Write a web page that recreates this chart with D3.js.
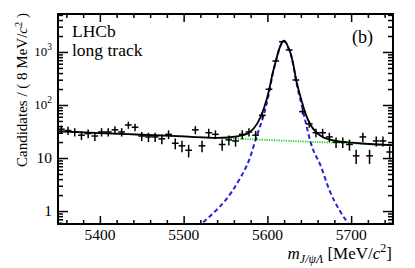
<!DOCTYPE html>
<html lang="en">
<head>
<meta charset="UTF-8">
<title>LHCb J/psi Lambda mass</title>
<script src="https://cdn.jsdelivr.net/npm/d3@7"></script>
<style>
  body { margin: 0; background: #fff; }
  text { font-family: "Liberation Serif", "DejaVu Serif", serif; fill: #000; }
</style>
</head>
<body>
<svg width="415" height="268"></svg>
<script>
// bin centres (8 MeV bins, 5350 - 5750)
var binCentres = [5354, 5362, 5370, 5378, 5386, 5394, 5402, 5410, 5418, 5426,
                  5434, 5442, 5450, 5458, 5466, 5474, 5482, 5490, 5498, 5506,
                  5514, 5522, 5530, 5538, 5546, 5554, 5562, 5570, 5578, 5586,
                  5594, 5602, 5610, 5618, 5626, 5634, 5642, 5650, 5658, 5666,
                  5674, 5682, 5690, 5698, 5706, 5714, 5722, 5730, 5738, 5746];
var counts = [35, 33, 31, 27, 29, 26, 31, 31, 34, 31,
              42, 38, 26, 25, 25, 23, 28, 19, 17, 14,
              34, 17, 30, 28, 18, 22, 21, 28, 31, 27,
              64, 198, 676, 1564, 1091, 296, 75, 44, 30, 30,
              25, 20, 20, 18, 11, 25, 11, 21, 21, 13];

// fit components
var bkgMass = [5350, 5450, 5550, 5650, 5750];
var bkgVal  = [32, 27.5, 23.6, 20.3, 17.5];

var sigMass = [5510, 5521, 5535, 5550, 5566, 5578, 5588, 5596, 5602, 5606, 5610, 5614, 5617, 5619.5,
               5622, 5625, 5628, 5631, 5634, 5637, 5640, 5646, 5652, 5664, 5674, 5686, 5696, 5704];
var sigVal  = [0.4, 0.57, 0.9, 1.6, 3.8, 9, 28, 68, 170, 360, 650, 1100, 1450, 1620,
               1500, 1200, 900, 560, 300, 180, 115, 45, 19, 6.9, 2.5, 1.04, 0.6, 0.4];

var totMass = [5350, 5400, 5450, 5500, 5540, 5566, 5578, 5588, 5596, 5602, 5606, 5610, 5614, 5617, 5619.5,
               5622, 5625, 5628, 5631, 5634, 5637, 5640, 5646, 5652, 5664, 5676, 5690, 5710, 5750];
var totVal  = [32, 29.6, 27.5, 25.5, 24, 26, 30, 45, 88, 190, 380, 670, 1120, 1470, 1640,
               1520, 1220, 920, 580, 320, 200, 135, 66, 41, 26, 22, 20.2, 19, 17.5];

var xTicks = [5400, 5500, 5600, 5700];

var svg = d3.select("svg");
var pL = 58, pR = 393, pT = 14, pB = 224;

var x = d3.scaleLinear().domain([5350, 5750]).range([pL, pR]);
var y = d3.scaleLog().domain([0.57, 5200]).range([pB, pT]);

svg.append("clipPath").attr("id", "clip")
  .append("rect").attr("x", pL).attr("y", pT)
  .attr("width", pR - pL).attr("height", pB - pT);

var plot = svg.append("g").attr("clip-path", "url(#clip)");

// fit curves
var line = d3.line().curve(d3.curveMonotoneX);

plot.append("path")
  .attr("d", line(bkgMass.map(function(m, i) { return [x(m), y(bkgVal[i])]; })))
  .attr("fill", "none").attr("stroke", "#1fd11f").attr("stroke-width", 1.8)
  .attr("stroke-dasharray", "1.2,1.2");

plot.append("path")
  .attr("d", line(sigMass.map(function(m, i) { return [x(m), y(sigVal[i])]; })))
  .attr("fill", "none").attr("stroke", "#2222d8").attr("stroke-width", 2)
  .attr("stroke-dasharray", "4.5,3");

plot.append("path")
  .attr("d", line(totMass.map(function(m, i) { return [x(m), y(totVal[i])]; })))
  .attr("fill", "none").attr("stroke", "#000").attr("stroke-width", 1.8);

// data points with errors
var pts = plot.selectAll("g.pt")
  .data(binCentres.map(function(c, i) { return { c: c, n: counts[i] }; }))
  .join("g").attr("class", "pt");

pts.append("line")
  .attr("x1", function(d) { return x(d.c - 4); })
  .attr("x2", function(d) { return x(d.c + 4); })
  .attr("y1", function(d) { return y(d.n); })
  .attr("y2", function(d) { return y(d.n); })
  .attr("stroke", "#000").attr("stroke-width", 1.5);

pts.append("line")
  .attr("x1", function(d) { return x(d.c); })
  .attr("x2", function(d) { return x(d.c); })
  .attr("y1", function(d) { return y(d.n + Math.sqrt(d.n)); })
  .attr("y2", function(d) { return y(Math.max(d.n - Math.sqrt(d.n), 0.3)); })
  .attr("stroke", "#000").attr("stroke-width", 1.5);

// axes (ticks inside, on all four sides)
var xMinor = d3.range(5360, 5750, 20).filter(function(v) { return v % 100 !== 0; });
var yMajor = [1, 10, 100, 1000];
var yMinor = [];
[0.1, 1, 10, 100, 1000].forEach(function(p) {
  for (var k = 2; k <= 9; k++) {
    var v = k * p;
    if (v > 0.57 && v < 5200) yMinor.push(v);
  }
});

function ax(gen, scale, vals, size, tx, ty) {
  svg.append("g").attr("transform", "translate(" + tx + "," + ty + ")")
    .call(gen(scale).tickValues(vals).tickSize(size).tickSizeOuter(0).tickFormat(""))
    .call(function(g) {
      g.select(".domain").remove();
      g.selectAll("line").attr("stroke", "#000").attr("stroke-width", 1.5);
    });
}
ax(d3.axisBottom, x, xTicks, -8, 0, pB);
ax(d3.axisBottom, x, xMinor, -4, 0, pB);
ax(d3.axisTop, x, xTicks, -8, 0, pT);
ax(d3.axisTop, x, xMinor, -4, 0, pT);
ax(d3.axisLeft, y, yMajor, -10, pL, 0);
ax(d3.axisLeft, y, yMinor, -5, pL, 0);
ax(d3.axisRight, y, yMajor, -10, pR, 0);
ax(d3.axisRight, y, yMinor, -5, pR, 0);

svg.append("rect")
  .attr("x", pL).attr("y", pT)
  .attr("width", pR - pL).attr("height", pB - pT)
  .attr("fill", "none").attr("stroke", "#000").attr("stroke-width", 2);

// tick labels
svg.selectAll("text.xl").data(xTicks).join("text").attr("class", "xl")
  .attr("x", function(d) { return x(d); }).attr("y", 240)
  .attr("text-anchor", "middle").attr("font-size", 15.5)
  .text(function(d) { return d; });

var yl = svg.selectAll("text.yl").data(yMajor).join("text").attr("class", "yl")
  .attr("x", 52).attr("y", function(d) { return y(d) + 5; })
  .attr("text-anchor", "end").attr("font-size", 15.5);
yl.each(function(d) {
  var t = d3.select(this);
  if (d < 100) { t.text(d); return; }
  t.attr("font-size", 13).attr("y", y(d) + 4.5);
  t.append("tspan").text("10");
  t.append("tspan").attr("dy", -6).attr("font-size", 9.5).text(Math.round(Math.log10(d)));
});

// axis titles
var yt = svg.append("text")
  .attr("transform", "translate(27,13) rotate(-90)")
  .attr("text-anchor", "end").attr("font-size", 15);
yt.append("tspan").text("Candidates / ( 8 MeV/");
yt.append("tspan").attr("font-style", "italic").text("c");
yt.append("tspan").attr("dy", -5.5).attr("font-size", 10.5).text("2");
yt.append("tspan").attr("dy", 5.5).text(" )");

var xt = svg.append("text")
  .attr("x", 392).attr("y", 259)
  .attr("text-anchor", "end").attr("font-size", 17);
xt.append("tspan").attr("font-style", "italic").text("m");
xt.append("tspan").attr("dy", 3.5).attr("font-size", 12).attr("font-style", "italic").text("J/\u03C8\u039B");
xt.append("tspan").attr("dy", -3.5).text(" [MeV/");
xt.append("tspan").attr("font-style", "italic").text("c");
xt.append("tspan").attr("dy", -7).attr("font-size", 12).text("2");
xt.append("tspan").attr("dy", 7).text("]");

// labels in the frame
svg.append("text").attr("x", 72).attr("y", 37).attr("font-size", 17.5).text("LHCb");
svg.append("text").attr("x", 72).attr("y", 56).attr("font-size", 17.5).text("long track");
svg.append("text").attr("x", 352).attr("y", 43).attr("font-size", 18).text("(b)");
</script>
</body>
</html>
